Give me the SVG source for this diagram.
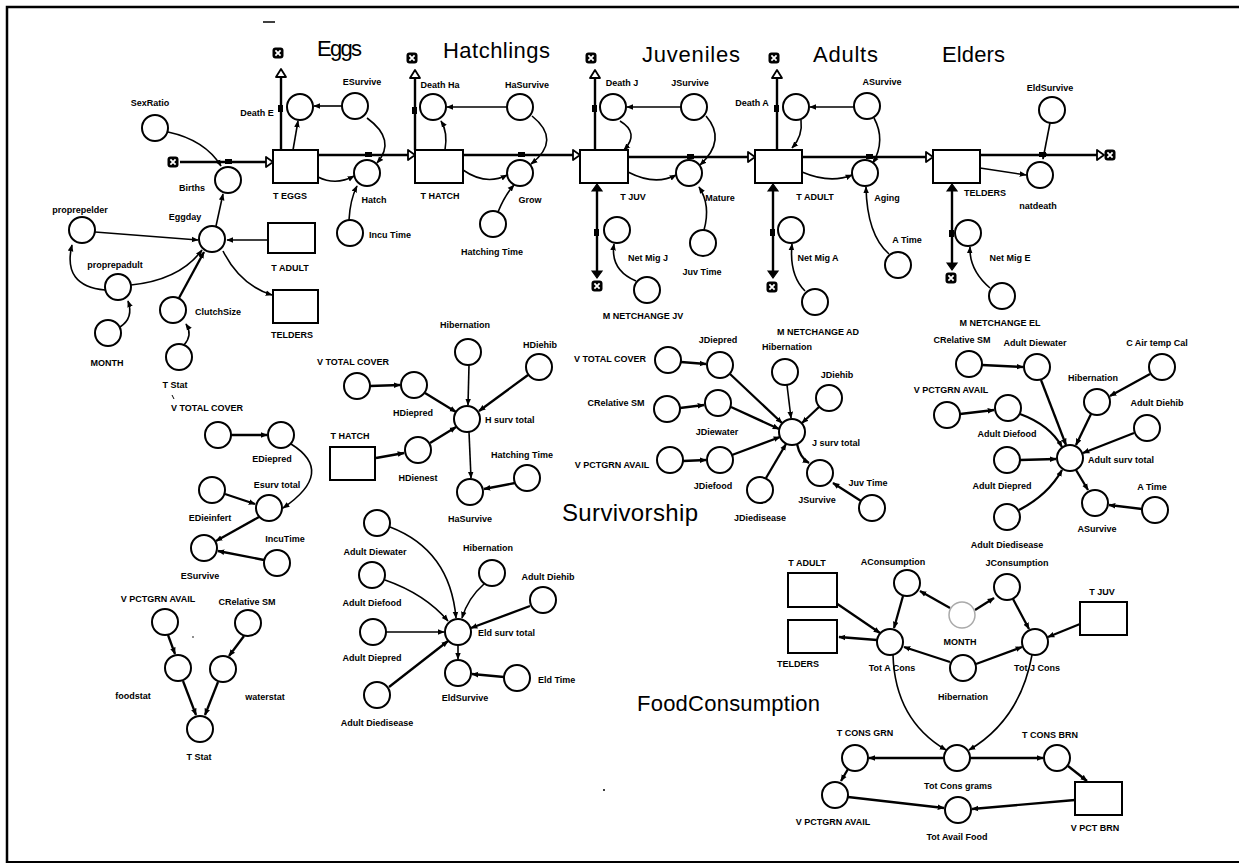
<svg xmlns="http://www.w3.org/2000/svg" width="1239" height="865" viewBox="0 0 1239 865">
<style>
text{font-family:"Liberation Sans",Arial,sans-serif;font-size:9px;font-weight:bold;text-anchor:middle;fill:#000}
text.s{text-anchor:start}
text.t{font-size:22px;font-weight:normal;text-anchor:start}
circle{fill:#fff;stroke:#000;stroke-width:2}
rect.st{fill:#fff;stroke:#000;stroke-width:2}
.c{fill:none;stroke:#000;stroke-width:1.6;marker-end:url(#ah)}
.c2{fill:none;stroke:#000;stroke-width:2.3;marker-end:url(#ah)}
.f{fill:none;stroke:#000;stroke-width:2.4}
.tri{fill:#fff;stroke:#000;stroke-width:1.8;stroke-linejoin:round}
.trif{fill:#000;stroke:#000;stroke-width:1.2}
.v{fill:#000}
</style>
<defs>
<marker id="ah" viewBox="0 0 10 10" refX="9" refY="5" markerWidth="7" markerHeight="7" markerUnits="userSpaceOnUse" orient="auto"><path d="M0,1L10,5L0,9z" fill="#000"/></marker>
<g id="cloud"><rect x="-5.5" y="-5.5" width="11" height="11" rx="3" fill="#000"/><path d="M-2.6,-2.6L2.6,2.6M2.6,-2.6L-2.6,2.6" stroke="#fff" stroke-width="1.8"/></g>
</defs>
<rect width="1239" height="865" fill="#fff"/>
<!-- frame -->
<path d="M7,863 L7,7 L1239,7" fill="none" stroke="#000" stroke-width="2.5"/>
<path d="M7,862 L1239,862" fill="none" stroke="#000" stroke-width="2"/>
<path d="M263,22 L275,22" stroke="#000" stroke-width="1.5"/>
<path d="M172,395 L174,399" stroke="#000" stroke-width="1"/>
<circle cx="193" cy="637" r="0.8" style="fill:#000;stroke:none"/>
<circle cx="604" cy="790" r="1" style="fill:#000;stroke:none"/>

<!-- titles -->
<g id="titles">
<text class="t" x="317" y="56" textLength="45">Eggs</text>
<text class="t" x="443" y="58" textLength="107">Hatchlings</text>
<text class="t" x="642" y="62" textLength="98">Juveniles</text>
<text class="t" x="813" y="62" textLength="65">Adults</text>
<text class="t" x="942" y="62" textLength="63">Elders</text>
<text class="t" x="562" y="521" textLength="136" style="font-size:24px">Survivorship</text>
<text class="t" x="637" y="711" textLength="183">FoodConsumption</text>
</g>

<!-- flows and connectors -->
<g id="connectors">
<!-- main chain flows -->
<path class="f" d="M180,162 L268,162"/>
<path class="f" d="M318,155 L409,155"/>
<path class="f" d="M463,155 L574,155"/>
<path class="f" d="M628,157 L749,157"/>
<path class="f" d="M802,157 L927,157"/>
<path class="f" d="M980,155 L1098,155"/>
<polygon class="tri" points="266,157 273,162 266,167"/>
<polygon class="tri" points="408,150 415,155 408,160"/>
<polygon class="tri" points="573,150 580,155 573,160"/>
<polygon class="tri" points="748,152 755,157 748,162"/>
<polygon class="tri" points="926,152 933,157 926,162"/>
<polygon class="tri" points="1097,150 1104,155 1097,160"/>
<use href="#cloud" x="173" y="162"/>
<use href="#cloud" x="1110" y="155"/>
<!-- death flows -->
<path class="f" d="M281,150 L281,77"/>
<polygon class="tri" points="276,77 281,69 286,77"/>
<use href="#cloud" x="278" y="53"/>
<path class="f" d="M415,150 L415,78"/>
<polygon class="tri" points="410,78 415,70 420,78"/>
<use href="#cloud" x="412" y="58"/>
<path class="f" d="M595,150 L595,78"/>
<polygon class="tri" points="590,78 595,70 600,78"/>
<use href="#cloud" x="591" y="58"/>
<path class="f" d="M777,150 L777,78"/>
<polygon class="tri" points="772,78 777,70 782,78"/>
<use href="#cloud" x="774" y="58"/>
<!-- migration flows -->
<path class="f" d="M597,190 L597,272"/>
<polygon class="trif" points="592,191 597,184 602,191"/>
<polygon class="trif" points="592,271 597,278 602,271"/>
<use href="#cloud" x="597" y="286"/>
<path class="f" d="M773,190 L773,272"/>
<polygon class="trif" points="768,191 773,184 778,191"/>
<polygon class="trif" points="768,271 773,278 778,271"/>
<use href="#cloud" x="772" y="287"/>
<path class="f" d="M952,190 L952,263"/>
<polygon class="trif" points="947,191 952,184 957,191"/>
<polygon class="trif" points="947,263 952,270 957,263"/>
<use href="#cloud" x="951" y="278"/>
<!-- valves -->
<rect class="v" x="225" y="159" width="7" height="5"/>
<rect class="v" x="365" y="152" width="7" height="5"/>
<rect class="v" x="518" y="152" width="7" height="5"/>
<rect class="v" x="687" y="154" width="7" height="5"/>
<rect class="v" x="866" y="154" width="7" height="5"/>
<rect class="v" x="1039" y="152" width="7" height="5"/>
<rect class="v" x="278" y="105" width="5" height="7"/>
<rect class="v" x="412" y="107" width="5" height="7"/>
<rect class="v" x="592" y="105" width="5" height="7"/>
<rect class="v" x="774" y="105" width="5" height="7"/>
<rect class="v" x="594" y="229" width="5" height="7"/>
<rect class="v" x="770" y="229" width="5" height="7"/>
<rect class="v" x="949" y="230" width="5" height="7"/>

<!-- top connectors -->
<path class="c" d="M168,132 Q205,140 221,166"/>
<path class="c" d="M216,226 L223,194"/>
<path class="c" d="M95,232 L198,240"/>
<path class="c" d="M268,240 L227,240"/>
<path class="c" d="M105,290 Q62,286 72,245"/>
<path class="c" d="M131,285 Q180,280 202,250"/>
<path class="c" d="M120,327 Q134,318 128,301"/>
<path class="c2" d="M179,298 L204,252"/>
<path class="c" d="M223,251 Q240,285 272,295"/>
<path class="c" d="M184,345 Q193,335 186,324"/>
<path class="c" d="M293,150 L298,121"/>
<path class="c" d="M342,106 L314,106"/>
<path class="c" d="M367,118 Q397,140 377,163"/>
<path class="c" d="M318,177 Q336,186 354,176"/>
<path class="c" d="M349,220 Q350,200 357,186"/>
<path class="c" d="M445,150 Q448,132 441,121"/>
<path class="c" d="M507,107 L447,107"/>
<path class="c" d="M532,116 Q562,140 531,164"/>
<path class="c" d="M463,170 Q486,186 507,175"/>
<path class="c" d="M498,212 Q505,195 514,185"/>
<path class="c" d="M620,121 Q640,133 624,150"/>
<path class="c" d="M681,107 L627,107"/>
<path class="c" d="M706,116 Q727,140 700,165"/>
<path class="c" d="M628,172 Q655,186 676,175"/>
<path class="c" d="M704,230 Q711,205 699,187"/>
<path class="c" d="M636,281 Q610,270 614,244"/>
<path class="c" d="M801,120 Q803,136 792,148"/>
<path class="c" d="M854,107 L810,107"/>
<path class="c" d="M874,118 Q886,140 873,163"/>
<path class="c" d="M802,172 Q830,184 852,175"/>
<path class="c" d="M889,254 Q867,235 866,187"/>
<path class="c" d="M805,291 Q789,275 792,244"/>
<path class="c" d="M1050,123 L1043,159"/>
<path class="c" d="M980,168 L1026,175"/>
<path class="c" d="M990,288 Q969,270 970,247"/>

<!-- egg survival -->
<path class="c2" d="M231,435 L267,435"/>
<path class="c" d="M291,444 Q336,472 283,508"/>
<path class="c2" d="M225,494 L255,504"/>
<path class="c2" d="M259,517 L216,541"/>
<path class="c2" d="M264,560 L218,551"/>
<!-- T Stat -->
<path class="c2" d="M168,635 L175,654"/>
<path class="c2" d="M244,636 L229,656"/>
<path class="c2" d="M183,681 L196,715"/>
<path class="c2" d="M218,682 L205,715"/>
<!-- hatchling survival -->
<path class="c2" d="M370,386 L400,385"/>
<path class="c2" d="M425,393 L456,412"/>
<path class="c" d="M469,365 L468,405"/>
<path class="c2" d="M528,375 L479,411"/>
<path class="c2" d="M376,458 L404,453"/>
<path class="c2" d="M430,443 L456,427"/>
<path class="c" d="M469,432 L471,478"/>
<path class="c2" d="M515,483 L484,489"/>
<!-- elder survival -->
<path class="c" d="M390,527 Q450,550 456,618"/>
<path class="c" d="M385,580 Q425,594 448,621"/>
<path class="c" d="M484,584 Q468,598 462,618"/>
<path class="c2" d="M530,606 L471,628"/>
<path class="c" d="M386,632 L444,632"/>
<path class="c2" d="M389,687 L448,641"/>
<path class="c" d="M458,645 L458,659"/>
<path class="c2" d="M504,677 L472,674"/>
<!-- juvenile survival -->
<path class="c2" d="M681,362 L706,364"/>
<path class="c2" d="M680,408 L704,405"/>
<path class="c2" d="M683,461 L706,460"/>
<path class="c2" d="M730,374 L782,423"/>
<path class="c2" d="M731,407 L779,429"/>
<path class="c2" d="M732,455 L780,437"/>
<path class="c" d="M787,385 L791,418"/>
<path class="c2" d="M819,407 L802,423"/>
<path class="c2" d="M766,478 L786,444"/>
<path class="c2" d="M797,444 Q800,458 809,463"/>
<path class="c2" d="M861,501 L833,483"/>
<!-- adult survival -->
<path class="c2" d="M982,365 L1023,367"/>
<path class="c2" d="M960,414 L994,410"/>
<path class="c2" d="M1041,380 L1066,445"/>
<path class="c2" d="M1020,414 Q1050,425 1062,447"/>
<path class="c2" d="M1150,374 L1110,396"/>
<path class="c2" d="M1091,414 L1076,445"/>
<path class="c2" d="M1134,433 L1083,453"/>
<path class="c2" d="M1020,460 L1056,459"/>
<path class="c2" d="M1019,510 Q1048,495 1062,470"/>
<path class="c2" d="M1076,470 L1088,490"/>
<path class="c2" d="M1142,509 L1109,505"/>
<!-- food consumption -->
<path class="c2" d="M833,601 L880,633"/>
<path class="c2" d="M877,640 L839,637"/>
<path class="c2" d="M903,596 L894,628"/>
<path class="c2" d="M950,608 L920,591"/>
<path class="c2" d="M975,610 L994,598"/>
<path class="c2" d="M1013,599 L1029,629"/>
<path class="c2" d="M1080,624 L1048,637"/>
<path class="c2" d="M976,664 L1022,647"/>
<path class="c2" d="M950,662 L904,647"/>
<path class="c" d="M893,655 Q895,720 946,750"/>
<path class="c" d="M1032,655 Q1020,720 969,750"/>
<path class="c2" d="M944,758 L869,758"/>
<path class="c2" d="M970,758 L1043,758"/>
<path class="c2" d="M848,769 L841,781"/>
<path class="c2" d="M1068,766 L1087,781"/>
<path class="c2" d="M1075,800 L972,809"/>
<path class="c2" d="M848,797 L944,808"/>
</g>

<!-- stocks -->
<g id="T_EGGS"><rect class="st" x="273" y="150" width="45" height="33"/><text x="290" y="199">T EGGS</text></g>
<g id="T_HATCH"><rect class="st" x="415" y="150" width="48" height="33"/><text x="440" y="199">T HATCH</text></g>
<g id="T_JUV"><rect class="st" x="580" y="150" width="48" height="33"/><text x="633" y="200">T JUV</text></g>
<g id="T_ADULT"><rect class="st" x="755" y="150" width="47" height="33"/><text x="815" y="200">T ADULT</text></g>
<g id="TELDERS"><rect class="st" x="933" y="150" width="47" height="33"/><text x="985" y="196">TELDERS</text></g>
<g id="T_ADULT_ghost1"><rect class="st" x="268" y="223" width="47" height="30"/><text x="290" y="271">T ADULT</text></g>
<g id="TELDERS_ghost1"><rect class="st" x="273" y="290" width="45" height="33"/><text x="292" y="338">TELDERS</text></g>
<g id="T_HATCH_ghost"><rect class="st" x="330" y="447" width="45" height="33"/><text x="350" y="439">T HATCH</text></g>
<g id="T_ADULT_ghost2"><rect class="st" x="788" y="573" width="49" height="34"/><text x="807" y="566">T ADULT</text></g>
<g id="TELDERS_ghost2"><rect class="st" x="788" y="620" width="49" height="33"/><text x="798" y="667">TELDERS</text></g>
<g id="T_JUV_ghost"><rect class="st" x="1080" y="602" width="47" height="33"/><text x="1102" y="595">T JUV</text></g>
<g id="V_PCT_BRN"><rect class="st" x="1075" y="782" width="47" height="33"/><text x="1095" y="831">V PCT BRN</text></g>

<!-- top converters -->
<g id="SexRatio"><circle cx="155" cy="128" r="13"/><text x="150" y="106">SexRatio</text></g>
<g id="Births"><circle cx="228" cy="180" r="13"/><text x="192" y="191">Births</text></g>
<g id="Eggday"><circle cx="212" cy="239" r="13"/><text x="185" y="220">Eggday</text></g>
<g id="proprepelder"><circle cx="82" cy="230" r="13"/><text x="80" y="213">proprepelder</text></g>
<g id="proprepadult"><circle cx="118" cy="287" r="13"/><text x="115" y="268">proprepadult</text></g>
<g id="MONTH1"><circle cx="108" cy="333" r="13"/><text x="107" y="366">MONTH</text></g>
<g id="ClutchSize"><circle cx="173" cy="310" r="13"/><text x="218" y="315">ClutchSize</text></g>
<g id="TStat1"><circle cx="179" cy="357" r="13"/><text x="175" y="388">T Stat</text></g>
<g id="DeathE"><circle cx="300" cy="107" r="13"/><text x="257" y="116">Death E</text></g>
<g id="ESurvive1"><circle cx="355" cy="106" r="13"/><text x="362" y="85">ESurvive</text></g>
<g id="Hatch"><circle cx="367" cy="173" r="13"/><text x="374" y="203">Hatch</text></g>
<g id="IncuTime1"><circle cx="350" cy="233" r="13"/><text x="390" y="238">Incu Time</text></g>
<g id="DeathHa"><circle cx="433" cy="107" r="13"/><text x="440" y="88">Death Ha</text></g>
<g id="HaSurvive1"><circle cx="520" cy="107" r="13"/><text x="527" y="88">HaSurvive</text></g>
<g id="Grow"><circle cx="520" cy="173" r="13"/><text x="530" y="203">Grow</text></g>
<g id="HatchingTime1"><circle cx="493" cy="224" r="13"/><text x="492" y="255">Hatching Time</text></g>
<g id="DeathJ"><circle cx="613" cy="107" r="13"/><text x="622" y="86">Death J</text></g>
<g id="JSurvive1"><circle cx="694" cy="107" r="13"/><text x="690" y="86">JSurvive</text></g>
<g id="Mature"><circle cx="689" cy="173" r="13"/><text x="720" y="201">Mature</text></g>
<g id="JuvTime1"><circle cx="703" cy="243" r="13"/><text x="702" y="275">Juv Time</text></g>
<g id="NetMigJ"><circle cx="617" cy="230" r="13"/><text x="648" y="261">Net Mig J</text></g>
<g id="MNETCHANGE_JV"><circle cx="647" cy="290" r="13"/><text x="643" y="319">M NETCHANGE JV</text></g>
<g id="DeathA"><circle cx="796" cy="107" r="13"/><text x="752" y="106">Death A</text></g>
<g id="ASurvive1"><circle cx="867" cy="106" r="13"/><text x="882" y="85">ASurvive</text></g>
<g id="Aging"><circle cx="865" cy="173" r="13"/><text x="887" y="201">Aging</text></g>
<g id="ATime1"><circle cx="898" cy="265" r="13"/><text x="907" y="243">A Time</text></g>
<g id="NetMigA"><circle cx="791" cy="230" r="13"/><text x="818" y="261">Net Mig A</text></g>
<g id="MNETCHANGE_AD"><circle cx="815" cy="302" r="13"/><text x="818" y="335">M NETCHANGE AD</text></g>
<g id="EldSurvive1"><circle cx="1052" cy="110" r="13"/><text x="1050" y="91">EldSurvive</text></g>
<g id="natdeath"><circle cx="1040" cy="175" r="13"/><text x="1038" y="209">natdeath</text></g>
<g id="NetMigE"><circle cx="968" cy="233" r="13"/><text x="1010" y="261">Net Mig E</text></g>
<g id="MNETCHANGE_EL"><circle cx="1002" cy="296" r="13"/><text x="1000" y="326">M NETCHANGE EL</text></g>

<!-- egg survivorship -->
<g id="VTC1"><circle cx="218" cy="435" r="13"/><text x="207" y="411">V TOTAL COVER</text></g>
<g id="EDiepred"><circle cx="281" cy="435" r="13"/><text x="272" y="462">EDiepred</text></g>
<g id="Esurvtotal"><circle cx="269" cy="508" r="13"/><text x="277" y="488">Esurv total</text></g>
<g id="EDieinfert"><circle cx="212" cy="490" r="13"/><text x="210" y="521">EDieinfert</text></g>
<g id="IncuTime2"><circle cx="277" cy="563" r="13"/><text x="285" y="542">IncuTime</text></g>
<g id="ESurvive2"><circle cx="204" cy="548" r="13"/><text x="200" y="579">ESurvive</text></g>
<!-- T Stat -->
<g id="VPCT1"><circle cx="165" cy="622" r="13"/><text x="158" y="602">V PCTGRN AVAIL</text></g>
<g id="CRel1"><circle cx="248" cy="623" r="13"/><text x="247" y="605">CRelative SM</text></g>
<g id="foodstat"><circle cx="178" cy="668" r="13"/><text x="133" y="699">foodstat</text></g>
<g id="waterstat"><circle cx="223" cy="669" r="13"/><text x="265" y="700">waterstat</text></g>
<g id="TStat2"><circle cx="200" cy="729" r="13"/><text x="199" y="760">T Stat</text></g>
<!-- hatchling survivorship -->
<g id="Hib1"><circle cx="468" cy="352" r="13"/><text x="465" y="328">Hibernation</text></g>
<g id="HDiehib"><circle cx="539" cy="367" r="13"/><text x="540" y="348">HDiehib</text></g>
<g id="VTC2"><circle cx="357" cy="386" r="13"/><text x="353" y="365">V TOTAL COVER</text></g>
<g id="HDiepred"><circle cx="414" cy="385" r="13"/><text x="413" y="416">HDiepred</text></g>
<g id="Hsurvtotal"><circle cx="467" cy="419" r="13"/><text class="s" x="485" y="423">H surv total</text></g>
<g id="HDienest"><circle cx="418" cy="450" r="13"/><text x="418" y="481">HDienest</text></g>
<g id="HaSurvive2"><circle cx="470" cy="492" r="13"/><text x="470" y="522">HaSurvive</text></g>
<g id="HatchingTime2"><circle cx="527" cy="478" r="13"/><text x="522" y="458">Hatching Time</text></g>
<!-- elder survivorship -->
<g id="ADiewater1"><circle cx="377" cy="523" r="13"/><text x="375" y="555">Adult Diewater</text></g>
<g id="Hib2"><circle cx="492" cy="573" r="13"/><text x="488" y="551">Hibernation</text></g>
<g id="ADiehib1"><circle cx="543" cy="600" r="13"/><text x="548" y="580">Adult Diehib</text></g>
<g id="ADiefood1"><circle cx="372" cy="575" r="13"/><text x="372" y="606">Adult Diefood</text></g>
<g id="Eldsurvtotal"><circle cx="458" cy="632" r="13"/><text class="s" x="478" y="636">Eld surv total</text></g>
<g id="ADiepred1"><circle cx="373" cy="632" r="13"/><text x="372" y="661">Adult Diepred</text></g>
<g id="ADiedisease1"><circle cx="377" cy="695" r="13"/><text x="377" y="726">Adult Diedisease</text></g>
<g id="EldSurvive2"><circle cx="458" cy="673" r="13"/><text x="465" y="701">EldSurvive</text></g>
<g id="EldTime"><circle cx="517" cy="678" r="13"/><text class="s" x="538" y="683">Eld Time</text></g>
<!-- juvenile survivorship -->
<g id="JDiepred"><circle cx="720" cy="365" r="13"/><text x="718" y="343">JDiepred</text></g>
<g id="VTC3"><circle cx="668" cy="360" r="13"/><text x="610" y="362">V TOTAL COVER</text></g>
<g id="Hib3"><circle cx="785" cy="372" r="13"/><text x="787" y="350">Hibernation</text></g>
<g id="JDiehib"><circle cx="829" cy="398" r="13"/><text x="837" y="378">JDiehib</text></g>
<g id="CRel2"><circle cx="667" cy="409" r="13"/><text x="616" y="406">CRelative SM</text></g>
<g id="JDiewater"><circle cx="718" cy="403" r="13"/><text x="717" y="435">JDiewater</text></g>
<g id="Jsurvtotal"><circle cx="792" cy="432" r="13"/><text class="s" x="812" y="446">J surv total</text></g>
<g id="VPCT2"><circle cx="670" cy="460" r="13"/><text x="612" y="468">V PCTGRN AVAIL</text></g>
<g id="JDiefood"><circle cx="720" cy="460" r="13"/><text x="713" y="489">JDiefood</text></g>
<g id="JDiedisease"><circle cx="760" cy="490" r="13"/><text x="760" y="521">JDiedisease</text></g>
<g id="JSurvive2"><circle cx="820" cy="473" r="13"/><text x="817" y="503">JSurvive</text></g>
<g id="JuvTime2"><circle cx="872" cy="508" r="13"/><text x="868" y="486">Juv Time</text></g>
<!-- adult survivorship -->
<g id="CRel3"><circle cx="969" cy="364" r="13"/><text x="962" y="343">CRelative SM</text></g>
<g id="ADiewater2"><circle cx="1037" cy="367" r="13"/><text x="1035" y="346">Adult Diewater</text></g>
<g id="CAirtemp"><circle cx="1162" cy="367" r="13"/><text x="1157" y="346">C Air temp Cal</text></g>
<g id="Hib4"><circle cx="1097" cy="402" r="13"/><text x="1093" y="381">Hibernation</text></g>
<g id="VPCT3"><circle cx="947" cy="415" r="13"/><text x="951" y="393">V PCTGRN AVAIL</text></g>
<g id="ADiefood2"><circle cx="1008" cy="408" r="13"/><text x="1007" y="437">Adult Diefood</text></g>
<g id="ADiehib2"><circle cx="1147" cy="428" r="13"/><text x="1157" y="406">Adult Diehib</text></g>
<g id="Adultsurvtotal"><circle cx="1070" cy="458" r="13"/><text class="s" x="1088" y="463">Adult surv total</text></g>
<g id="ADiepred2"><circle cx="1007" cy="460" r="13"/><text x="1002" y="489">Adult Diepred</text></g>
<g id="ADiedisease2"><circle cx="1007" cy="517" r="13"/><text x="1007" y="548">Adult Diedisease</text></g>
<g id="ASurvive2"><circle cx="1095" cy="503" r="13"/><text x="1097" y="532">ASurvive</text></g>
<g id="ATime2"><circle cx="1155" cy="510" r="13"/><text x="1152" y="490">A Time</text></g>
<!-- food consumption -->
<g id="AConsumption"><circle cx="907" cy="583" r="13"/><text x="893" y="565">AConsumption</text></g>
<g id="JConsumption"><circle cx="1007" cy="587" r="13"/><text x="1017" y="566">JConsumption</text></g>
<g id="MONTH2"><circle cx="962" cy="615" r="13" style="stroke:#aaa;stroke-width:1.5"/><text x="960" y="645">MONTH</text></g>
<g id="TotACons"><circle cx="890" cy="642" r="13"/><text x="892" y="671">Tot A Cons</text></g>
<g id="TotJCons"><circle cx="1035" cy="642" r="13"/><text x="1037" y="671">Tot J Cons</text></g>
<g id="Hib5"><circle cx="963" cy="668" r="13"/><text x="963" y="700">Hibernation</text></g>
<g id="TCONSGRN"><circle cx="855" cy="758" r="13"/><text x="865" y="736">T CONS GRN</text></g>
<g id="TCONSBRN"><circle cx="1057" cy="758" r="13"/><text x="1050" y="738">T CONS BRN</text></g>
<g id="TotConsgrams"><circle cx="957" cy="758" r="13"/><text x="958" y="789">Tot Cons grams</text></g>
<g id="VPCT4"><circle cx="835" cy="795" r="13"/><text x="833" y="825">V PCTGRN AVAIL</text></g>
<g id="TotAvailFood"><circle cx="958" cy="810" r="13"/><text x="957" y="840">Tot Avail Food</text></g>
</svg>
